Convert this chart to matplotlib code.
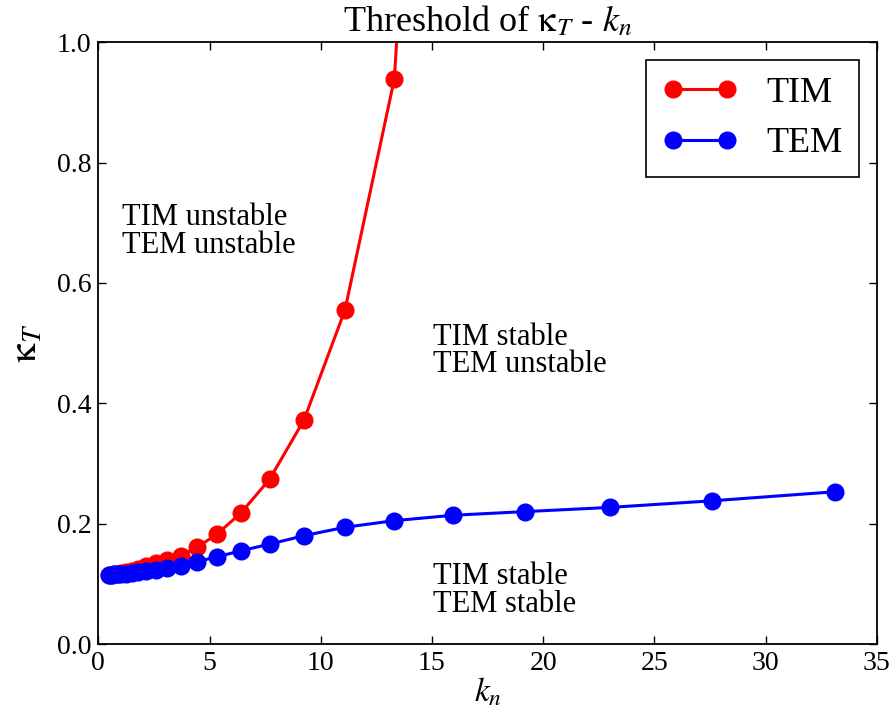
import matplotlib
matplotlib.use("Agg")
import matplotlib.pyplot as plt

plt.rcParams['font.family'] = ['Liberation Serif', 'DejaVu Serif']
plt.rcParams['mathtext.fontset'] = 'stix'

k_n = [0.5, 0.6, 0.72, 0.864, 1.037, 1.244, 1.493, 1.792, 2.150, 2.580, 3.096,
       3.715, 4.458, 5.350, 6.420, 7.704, 9.245, 11.09, 13.31, 15.97, 19.17,
       23.00, 27.60, 33.12]

tim = [0.115, 0.1155, 0.116, 0.117, 0.118, 0.120, 0.122, 0.125, 0.129, 0.134,
       0.140, 0.147, 0.161, 0.183, 0.218, 0.274, 0.372, 0.555, 0.939, 2.5]
tem = [0.115, 0.1153, 0.1156, 0.116, 0.1165, 0.117, 0.118, 0.119, 0.121, 0.123,
       0.126, 0.130, 0.137, 0.145, 0.155, 0.166, 0.180, 0.194, 0.205, 0.214,
       0.220, 0.227, 0.238, 0.253]

regions = ["TIM unstable\nTEM unstable", "TIM stable\nTEM unstable", "TIM stable\nTEM stable"]
region_pos = [(1.05, 0.685), (15.05, 0.487), (15.05, 0.089)]

fig = plt.figure(figsize=(8.95, 7.2), dpi=100)
ax = fig.add_axes([98.3/895, 1 - 644/720, (876.7 - 98.3)/895, (644 - 42.3)/720])

ax.plot(k_n[:len(tim)], tim, '-o', color='red', lw=2.2, ms=12, mec='red', label='TIM')
ax.plot(k_n, tem, '-o', color='blue', lw=2.2, ms=12, mec='blue', label='TEM')

for txt, (x, y) in zip(regions, region_pos):
    ax.text(x, y, txt, ha='left', va='center', fontsize=22, linespacing=0.95)

ax.set_xlim(0, 35)
ax.set_ylim(0, 1.0)
ax.set_xticks([0, 5, 10, 15, 20, 25, 30, 35])
ax.set_yticks([0.0, 0.2, 0.4, 0.6, 0.8, 1.0])
ax.tick_params(direction='in', top=True, right=True, labelsize=20, length=6, width=1, pad=5)
for s in ax.spines.values():
    s.set_linewidth(1.3)

ax.set_title(r"Threshold of $\mathrm{\kappa}_T$ - $k_n$", fontsize=26, pad=8)
ax.set_xlabel(r"$k_n$", fontsize=24, labelpad=0)
ax.set_ylabel(r"$\mathrm{\kappa}_T$", fontsize=28, labelpad=8)

leg = ax.legend(loc='upper right', numpoints=2, fontsize=26, fancybox=False,
                framealpha=1, edgecolor='black', borderpad=0.45, handlelength=2.07,
                handletextpad=0.8, borderaxespad=0.5, labelspacing=0.48)
leg.get_frame().set_linewidth(1.2)

fig.savefig("out.png", dpi=100)
